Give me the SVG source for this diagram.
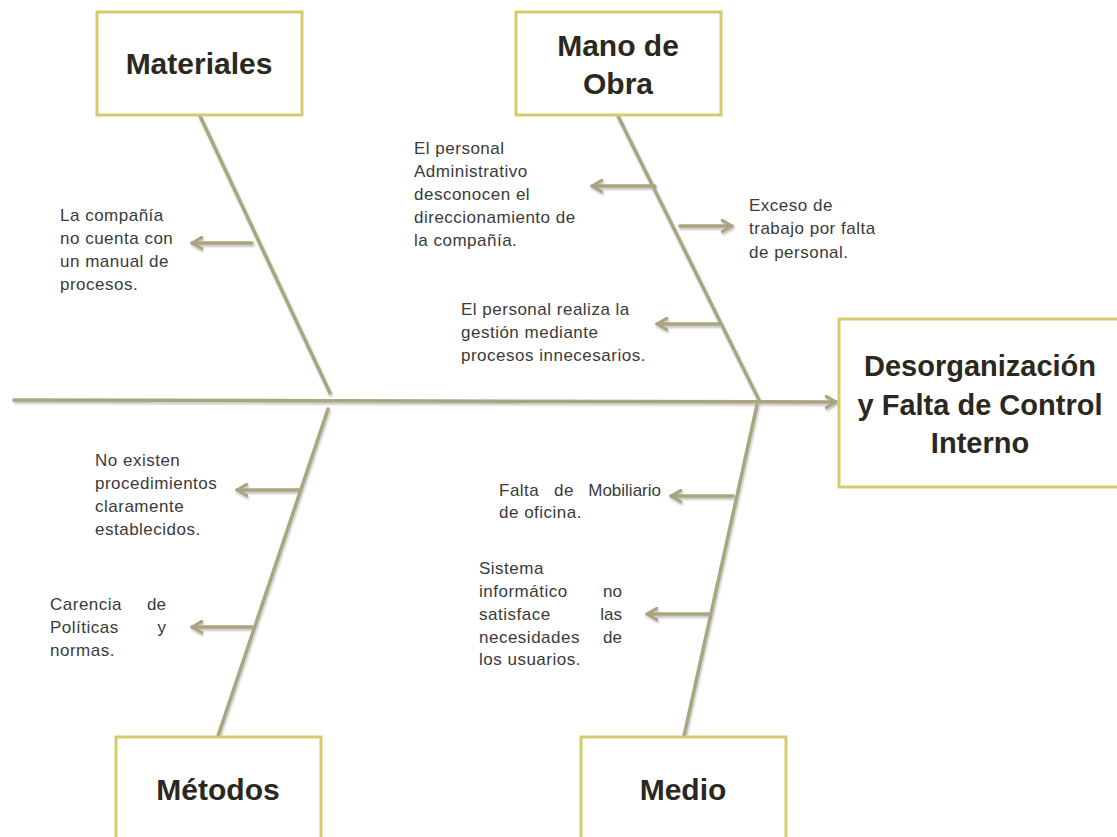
<svg xmlns="http://www.w3.org/2000/svg" width="1117" height="837" viewBox="0 0 1117 837">
<style>
.box{fill:#fff;stroke:#d4cc6a;stroke-width:3}
.title{font-family:"Liberation Sans",Arial,sans-serif;font-weight:bold;font-size:30px;fill:#2b2820;text-anchor:middle}
.t{font-family:"Liberation Sans",Arial,sans-serif;font-size:17px;letter-spacing:0.5px;fill:#3a3a3a}
.e{text-anchor:end;letter-spacing:0}
.bone{stroke:#a9a57f;stroke-width:3.5;fill:none;stroke-linecap:round}
.ar{marker-end:url(#ah)}
</style>
<defs>
<marker id="ah" viewBox="0 0 10 10" refX="8" refY="5" markerWidth="4" markerHeight="4" orient="auto" markerUnits="strokeWidth">
<path d="M1,1 L8,5 L1,9" fill="none" stroke="#a9a57f" stroke-width="2.2" stroke-linecap="round" stroke-linejoin="round"/>
</marker>
<filter id="sh" x="-5%" y="-5%" width="110%" height="110%">
<feDropShadow dx="1" dy="2" stdDeviation="1" flood-color="#000" flood-opacity="0.25"/>
</filter>
</defs>
<g id="connectors" filter="url(#sh)">
<line class="bone ar" x1="14" y1="400" x2="836" y2="402"/>
<line class="bone" x1="200" y1="116" x2="330" y2="393"/>
<line class="bone" x1="328" y1="409" x2="218" y2="736"/>
<line class="bone" x1="618" y1="116" x2="760" y2="402"/>
<line class="bone" x1="757" y1="405" x2="684" y2="736"/>
<line class="bone ar" x1="252" y1="243" x2="192" y2="243"/>
<line class="bone ar" x1="655" y1="186" x2="592" y2="186"/>
<line class="bone ar" x1="720" y1="324" x2="657" y2="324"/>
<line class="bone ar" x1="680" y1="226" x2="732" y2="226"/>
<line class="bone ar" x1="300" y1="490" x2="237" y2="490"/>
<line class="bone ar" x1="252" y1="627" x2="192" y2="627"/>
<line class="bone ar" x1="733" y1="496" x2="671" y2="496"/>
<line class="bone ar" x1="709" y1="614" x2="647" y2="614"/>
</g>
<g id="materiales">
<rect class="box" x="97" y="12" width="205" height="103"/>
<text class="title" x="199" y="74">Materiales</text>
</g>
<g id="manodeobra">
<rect class="box" x="516" y="12" width="205" height="103"/>
<text class="title" x="618" y="56">Mano de</text>
<text class="title" x="618" y="94">Obra</text>
</g>
<g id="efecto">
<rect class="box" x="839" y="319" width="290" height="168"/>
<text class="title" x="980" y="376" style="font-size:29px">Desorganización</text>
<text class="title" x="980" y="415" style="font-size:29px">y Falta de Control</text>
<text class="title" x="980" y="453" style="font-size:29px">Interno</text>
</g>
<g id="metodos">
<rect class="box" x="116" y="737" width="205" height="120"/>
<text class="title" x="218" y="800">Métodos</text>
</g>
<g id="medio">
<rect class="box" x="581" y="737" width="205" height="120"/>
<text class="title" x="683" y="800">Medio</text>
</g>
<g id="causa-materiales">
<text class="t" x="60" y="221">La compañía</text>
<text class="t" x="60" y="244">no cuenta con</text>
<text class="t" x="60" y="267">un manual de</text>
<text class="t" x="60" y="290">procesos.</text>
</g>
<g id="causa-mano1">
<text class="t" x="414" y="154">El personal</text>
<text class="t" x="414" y="177">Administrativo</text>
<text class="t" x="414" y="200">desconocen el</text>
<text class="t" x="414" y="223">direccionamiento de</text>
<text class="t" x="414" y="246">la compañía.</text>
</g>
<g id="causa-mano2">
<text class="t" x="749" y="211">Exceso de</text>
<text class="t" x="749" y="234">trabajo por falta</text>
<text class="t" x="749" y="258">de personal.</text>
</g>
<g id="causa-mano3">
<text class="t" x="461" y="315">El personal realiza la</text>
<text class="t" x="461" y="338">gestión mediante</text>
<text class="t" x="461" y="361">procesos innecesarios.</text>
</g>
<g id="causa-metodos1">
<text class="t" x="95" y="466">No existen</text>
<text class="t" x="95" y="489">procedimientos</text>
<text class="t" x="95" y="512">claramente</text>
<text class="t" x="95" y="535">establecidos.</text>
</g>
<g id="causa-metodos2">
<text class="t" x="50" y="610">Carencia</text>
<text class="t e" x="166" y="610">de</text>
<text class="t" x="50" y="633">Políticas</text>
<text class="t e" x="166" y="633">y</text>
<text class="t" x="50" y="656">normas.</text>
</g>
<g id="causa-medio1">
<text class="t" x="499" y="496">Falta</text>
<text class="t" x="564" y="496" style="text-anchor:middle">de</text>
<text class="t e" x="661" y="496">Mobiliario</text>
<text class="t" x="499" y="518">de oficina.</text>
</g>
<g id="causa-medio2">
<text class="t" x="479" y="574">Sistema</text>
<text class="t" x="479" y="597">informático</text>
<text class="t e" x="622" y="597">no</text>
<text class="t" x="479" y="620">satisface</text>
<text class="t e" x="622" y="620">las</text>
<text class="t" x="479" y="643">necesidades</text>
<text class="t e" x="622" y="643">de</text>
<text class="t" x="479" y="665">los usuarios.</text>
</g>
</svg>
